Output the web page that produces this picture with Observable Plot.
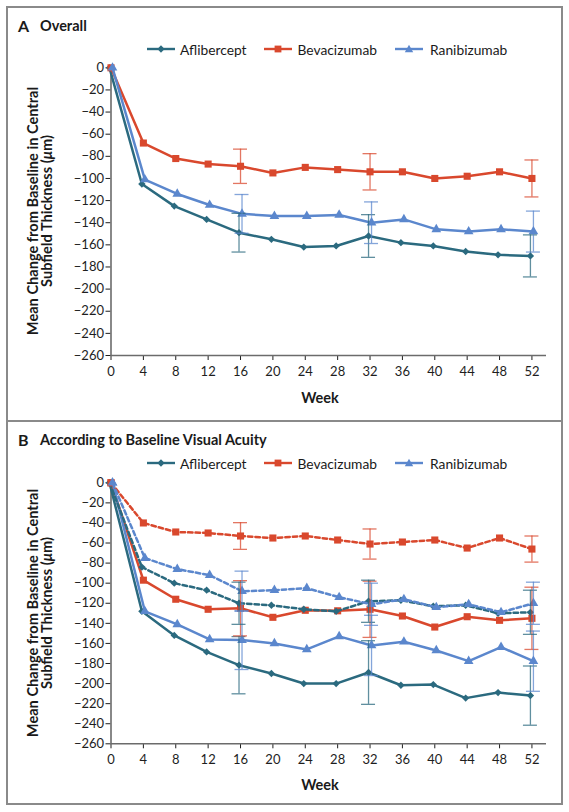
<!DOCTYPE html>
<html><head><meta charset="utf-8">
<script src="https://cdn.jsdelivr.net/npm/d3@7"></script>
<script src="https://cdn.jsdelivr.net/npm/@observablehq/plot@0.6"></script>
<style>
body{margin:0;background:#fff;font-family:Lato,"Open Sans",sans-serif;color:#1a1a1a;width:569px;height:812px;position:relative;overflow:hidden}
.abs{position:absolute;white-space:nowrap}
.vc{transform:translateY(-50%)}
.plotbox{position:absolute;left:0}
</style></head><body>
<script>
// ---------- data ----------
const drugs = ["Aflibercept", "Bevacizumab", "Ranibizumab"];
const drugColors = ["#2b6a7f", "#d9482d", "#5b87cd"];
const drugSymbols = ["diamond2", "square", "triangle"];
const weeks = [0, 4, 8, 12, 16, 20, 24, 28, 32, 36, 40, 44, 48, 52];
const xTicks = [0, 4, 8, 12, 16, 20, 24, 28, 32, 36, 40, 44, 48, 52];
const yTicks = [0, -20, -40, -60, -80, -100, -120, -140, -160, -180, -200, -220, -240, -260];
const errWeeks = [16, 32, 52];

// Panel A: overall
const overallAflibercept = [0, -105, -125, -137, -149, -155, -162, -161, -152, -158, -161, -166, -169, -170];
const overallBevacizumab = [0, -68, -82, -87, -89, -95, -90, -92, -94, -94, -100, -98, -94, -100];
const overallRanibizumab = [0, -101, -114, -124, -132, -134, -134, -133, -140, -137, -146, -148, -146, -148];
const overallAfliberceptErr = [17.5, 19.3, 19];
const overallBevacizumabErr = [15.5, 16.4, 16.7];
const overallRanibizumabErr = [17.5, 18.8, 18.5];

// Panel B: by baseline visual acuity (solid = worse, dashed = better)
const worseAflibercept = [0, -128, -152, -168.5, -181.7, -190, -200, -200, -189, -201.7, -201, -214.5, -209, -212];
const worseBevacizumab = [0, -97, -116, -126, -125, -134, -127, -127.5, -126, -132.7, -143.7, -133.4, -137, -135];
const worseRanibizumab = [0, -128, -141, -156, -156.7, -160, -166, -153, -162, -158.4, -167, -177.7, -163.7, -177.7];
const betterAflibercept = [0, -84, -100, -107, -120, -122, -126, -128, -118, -117, -123, -122, -130, -129];
const betterBevacizumab = [0, -40, -49, -50, -53, -55, -53, -57, -61, -59, -57, -65, -55, -66];
const betterRanibizumab = [0, -75, -86, -92, -108, -107, -105, -114, -121, -116, -124, -121, -129, -120];
const worseAfliberceptErr = [28.5, 31.7, 29.5];
const worseBevacizumabErr = [27.5, 28, 31];
const worseRanibizumabErr = [29.3, 30, 30];
const betterAfliberceptErr = [21, 21, 22];
const betterBevacizumabErr = [13.3, 15, 13];
const betterRanibizumabErr = [20, 21, 21];

const panelTitles = [["A", "Overall"], ["B", "According to Baseline Visual Acuity"]];
const yLabel = ["Mean Change from Baseline in Central", "Subfield Thickness (<i>μ</i>m)"];
const xLabel = "Week";

// ---------- helpers ----------
const dxByDrug = [-1.5, 0, 1.5];
const rByDrug = [3.3, 4.0, 3.6];

function makePlot(series, top, plotH) {
  const marks = [];
  marks.push(Plot.ruleY([-260], {stroke: "#6b6b6b", strokeWidth: 1.6}));
  marks.push(Plot.ruleX([0], {y1: -260, y2: 0, stroke: "#6b6b6b", strokeWidth: 1.6}));
  for (const s of series) {
    const rows = weeks.map((w, i) => ({week: w, value: s.values[i]}));
    const color = drugColors[s.drug];
    marks.push(Plot.line(rows, {x: "week", y: "value", stroke: color, strokeWidth: 2.5,
      strokeDasharray: s.dashed ? "4.5,3" : null, dx: dxByDrug[s.drug]}));
    marks.push(Plot.dot(rows, {x: "week", y: "value", symbol: drugSymbols[s.drug], fill: color,
      r: rByDrug[s.drug], dx: dxByDrug[s.drug]}));
  }
  for (const s of series) {
    const color = drugColors[s.drug];
    const er = errWeeks.map((w, j) => {
      const m = s.values[weeks.indexOf(w)];
      return {week: w, lo: m - s.err[j], hi: m + s.err[j]};
    });
    const caps = er.flatMap(d => [{week: d.week, v: d.lo}, {week: d.week, v: d.hi}]);
    marks.push(Plot.ruleX(er, {x: "week", y1: "lo", y2: "hi", stroke: color, strokeWidth: 1.3,
      strokeOpacity: 0.75, dx: dxByDrug[s.drug]}));
    marks.push(Plot.ruleY(caps, {y: "v", x1: "week", x2: "week", insetLeft: -7, insetRight: -7,
      stroke: color, strokeWidth: 1.3, strokeOpacity: 0.75, dx: dxByDrug[s.drug]}));
  }
  const mt = 10.3, mb = 30;
  const svg = Plot.plot({
    width: 569,
    height: mt + plotH + mb,
    marginLeft: 110.5,
    marginRight: 23,
    marginTop: mt,
    marginBottom: mb,
    style: {background: "transparent", fontFamily: "Lato, 'Open Sans', sans-serif", fontSize: "13px", color: "#1e1e1e", overflow: "visible"},
    x: {domain: [0, 53.8], ticks: xTicks, tickSize: 5, tickPadding: 6, label: null, tickFormat: d => String(d)},
    y: {domain: [-260, 0], ticks: yTicks, tickSize: 5, tickPadding: 2, label: null},
    marks
  });
  const box = document.createElement("div");
  box.className = "plotbox";
  box.style.top = top + "px";
  box.appendChild(svg);
  document.body.appendChild(box);
}

function addText(html, x, yc, css) {
  const d = document.createElement("div");
  d.className = "abs vc";
  d.style.left = x + "px";
  d.style.top = yc + "px";
  d.style.cssText += css;
  d.innerHTML = html;
  document.body.appendChild(d);
  return d;
}

function legendIcon(k) {
  const c = drugColors[k];
  let m;
  if (k === 0) m = `<path d="M14,2.2 L17.6,6 L14,9.8 L10.4,6 Z" fill="${c}"/>`;
  else if (k === 1) m = `<rect x="10.6" y="2.6" width="6.8" height="6.8" fill="${c}"/>`;
  else m = `<path d="M14,1.8 L18.2,9.2 L9.8,9.2 Z" fill="${c}"/>`;
  return `<svg width="28" height="12" style="display:block"><line x1="0" y1="6" x2="28" y2="6" stroke="${c}" stroke-width="2.4"/>${m}</svg>`;
}

function addLegend(yc) {
  const iconX = [147, 264, 395];
  const textX = [180, 297.5, 430];
  drugs.forEach((name, k) => {
    addText(legendIcon(k), iconX[k], yc, "");
    addText(name, textX[k], yc, "font-size:13.8px;color:#1a1a1a;");
  });
}

function addYLabel(yc) {
  const d = document.createElement("div");
  d.className = "abs";
  d.style.cssText = `left:39.5px;top:${yc}px;transform:translate(-50%,-50%) rotate(-90deg);text-align:center;font-weight:700;font-size:14.6px;line-height:14px;color:#1a1a1a;`;
  d.innerHTML = yLabel[0] + "<br>" + yLabel[1];
  document.body.appendChild(d);
}

// ---------- frame ----------
const frame = document.createElement("div");
frame.className = "abs";
frame.style.cssText = "left:6px;top:6px;width:553px;height:795px;border:2px solid #8a8a8a;";
document.body.appendChild(frame);
const sep = document.createElement("div");
sep.className = "abs";
sep.style.cssText = "left:6px;top:420px;width:557px;height:2px;background:#8a8a8a;";
document.body.appendChild(sep);

// ---------- panel A ----------
addText(panelTitles[0][0], 18, 25, "font-weight:700;font-size:16px;");
addText(panelTitles[0][1], 40, 25, "font-weight:700;font-size:14.5px;");
addLegend(49.3);
makePlot([
  {drug: 0, values: overallAflibercept, err: overallAfliberceptErr},
  {drug: 1, values: overallBevacizumab, err: overallBevacizumabErr},
  {drug: 2, values: overallRanibizumab, err: overallRanibizumabErr}
], 57, 287.7);
addYLabel(211.2);
{ const w = addText(xLabel, 320, 396.7, "font-weight:700;font-size:14.5px;"); w.style.transform = "translate(-50%,-50%)"; }

// ---------- panel B ----------
addText(panelTitles[1][0], 18, 439.3, "font-weight:700;font-size:16px;");
addText(panelTitles[1][1], 40, 439.3, "font-weight:700;font-size:14.5px;");
addLegend(463.3);
makePlot([
  {drug: 0, values: worseAflibercept, err: worseAfliberceptErr},
  {drug: 1, values: worseBevacizumab, err: worseBevacizumabErr},
  {drug: 2, values: worseRanibizumab, err: worseRanibizumabErr},
  {drug: 0, values: betterAflibercept, err: betterAfliberceptErr, dashed: true},
  {drug: 1, values: betterBevacizumab, err: betterBevacizumabErr, dashed: true},
  {drug: 2, values: betterRanibizumab, err: betterRanibizumabErr, dashed: true}
], 472, 261);
addYLabel(612.8);
{ const w = addText(xLabel, 320, 784.3, "font-weight:700;font-size:14.5px;"); w.style.transform = "translate(-50%,-50%)"; }
</script>
</body></html>
